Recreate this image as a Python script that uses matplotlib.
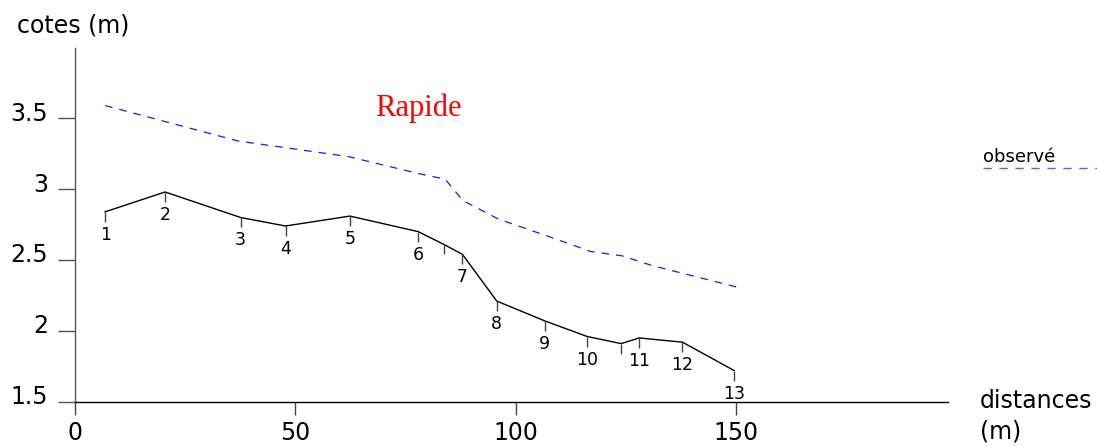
import matplotlib
matplotlib.use("Agg")
import matplotlib.pyplot as plt
import matplotlib.transforms as mtransforms
from matplotlib.lines import Line2D

plt.rcParams['font.family'] = ['DejaVu Sans']
plt.rcParams['lines.scale_dashes'] = False

# ground profile (terrain) points
dist = [6.9, 20.5, 37.6, 47.8, 62.4, 77.9, 83.7, 87.9, 95.7, 106.6, 116.2, 123.9, 128.0, 137.8, 149.5]
elev = [2.84, 2.98, 2.80, 2.74, 2.81, 2.70, 2.61, 2.54, 2.21, 2.07, 1.96, 1.91, 1.95, 1.92, 1.72]
point_labels = ['1', '2', '3', '4', '5', '6', '', '7', '8', '9', '10', '', '11', '12', '13']

# observed water surface
obs_dist = [6.9, 37.0, 62.0, 78.0, 84.0, 88.0, 96.0, 108.0, 117.0, 124.0, 131.0, 150.0]
obs_elev = [3.59, 3.34, 3.23, 3.11, 3.07, 2.92, 2.79, 2.66, 2.56, 2.53, 2.46, 2.31]

x_ticks = [0, 50, 100, 150]
y_ticks = [1.5, 2, 2.5, 3, 3.5]
y_tick_labels = ['1.5', '2', '2.5', '3', '3.5']

W, H = 1097, 446
fig = plt.figure(figsize=(W / 100, H / 100), dpi=100)
ax = fig.add_axes([74.7 / W, 44.3 / H, (948 - 74.7) / W, 353.4 / H])
ax.set_xlim(0, 198)
ax.set_ylim(1.5, 3.994)

for s in ['top', 'right']:
    ax.spines[s].set_visible(False)
ax.spines['left'].set_color('#555555')
ax.spines['bottom'].set_color('#000000')
ax.spines['left'].set_linewidth(1.0)
ax.spines['bottom'].set_linewidth(1.0)

ax.set_xticks(x_ticks)
ax.set_xticklabels([str(v) for v in x_ticks])
ax.set_yticks(y_ticks)
ax.set_yticklabels(y_tick_labels)
ax.tick_params(axis='y', direction='out', length=12.2, width=1.0, color='#555555',
               pad=7, labelsize=17)
ax.tick_params(axis='x', direction='out', length=9.4, width=1.0, color='#444444',
               pad=4.5, labelsize=17)
# raise y tick labels slightly as in the reference
off = mtransforms.ScaledTranslation(0, 7 / 100, fig.dpi_scale_trans)
for lab in ax.get_yticklabels():
    lab.set_transform(lab.get_transform() + off)

# terrain line
ax.plot(dist, elev, color='black', lw=1.0, zorder=3)
ax.plot(dist, elev, ls='none', marker=3, markersize=7.5, markeredgewidth=1.0,
        markeredgecolor='#444444', zorder=3)
for x, y, t in zip(dist, elev, point_labels):
    if t:
        ax.annotate(t, (x, y), xytext=(0, -28), textcoords='offset pixels',
                    ha='center', va='baseline', fontsize=12.5, color='black')

# observed line
ax.plot(obs_dist, obs_elev, color='#1a1aff', lw=0.9, ls=(0, (5.5, 5)), zorder=2)

ax.text(77.8, 3.57, 'Rapide', color='red', fontsize=22, family='Liberation Serif',
        ha='center', va='center')

# axis titles
fig.text(17 / W, 1 - 25 / H, 'cotes (m)', fontsize=17, ha='left', va='center')
fig.text(980 / W, 1 - 401 / H, 'distances', fontsize=17, ha='left', va='center')
fig.text(980 / W, 1 - 431 / H, '(m)', fontsize=17, ha='left', va='center')

# legend
fig.text(983 / W, 1 - 162 / H, 'observé', fontsize=13, ha='left', va='baseline')
fig.add_artist(Line2D([983 / W, 1.0], [1 - 168 / H, 1 - 168 / H], transform=fig.transFigure,
                      color='#5a5aff', lw=1.0, ls=(0, (6, 5.5))))

fig.savefig('out.png', dpi=100)
